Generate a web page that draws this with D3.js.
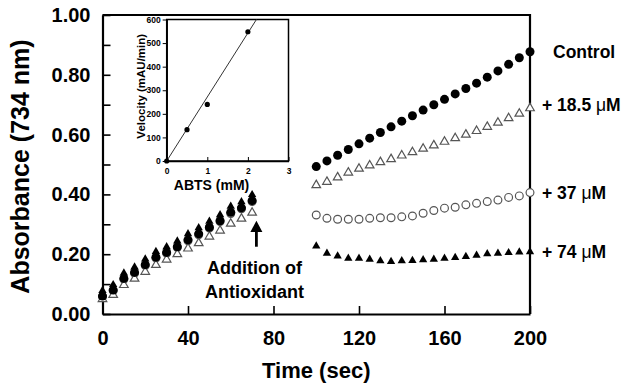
<!DOCTYPE html>
<html>
<head>
<meta charset="utf-8">
<script src="https://cdn.jsdelivr.net/npm/d3@7"></script>
<style>
  body { margin: 0; background: #fff; }
  svg { display: block; font-family: "Liberation Sans", Arial, sans-serif; font-weight: bold; }
</style>
</head>
<body>
<svg id="chart" width="621" height="383"></svg>
<script>
// time points (sec), before and after the antioxidant is added
const timeBefore = [0, 5, 10, 15, 20, 25, 30, 35, 40, 45, 50, 55, 60, 65, 70];
const timeAfter = [100, 105, 110, 115, 120, 125, 130, 135, 140, 145, 150, 155, 160, 165, 170, 175, 180, 185, 190, 195, 200];

// absorbance at 734 nm
const controlBefore = [0.060, 0.080, 0.119, 0.139, 0.165, 0.190, 0.206, 0.225, 0.248, 0.268, 0.290, 0.312, 0.340, 0.355, 0.379];
const conc18Before = [0.050, 0.064, 0.097, 0.118, 0.141, 0.164, 0.182, 0.200, 0.219, 0.237, 0.259, 0.279, 0.302, 0.319, 0.339];
const conc37Before = [0.058, 0.078, 0.116, 0.136, 0.162, 0.187, 0.203, 0.222, 0.245, 0.265, 0.287, 0.309, 0.336, 0.352, 0.376];
const conc74Before = [0.078, 0.098, 0.137, 0.157, 0.184, 0.209, 0.225, 0.244, 0.268, 0.288, 0.310, 0.332, 0.360, 0.375, 0.399];

const controlAfter = [0.493, 0.512, 0.531, 0.550, 0.569, 0.588, 0.607, 0.626, 0.645, 0.663, 0.682, 0.700, 0.718, 0.736, 0.754, 0.772, 0.792, 0.813, 0.835, 0.857, 0.877];
const conc18After = [0.431, 0.442, 0.457, 0.473, 0.486, 0.497, 0.508, 0.518, 0.530, 0.541, 0.553, 0.564, 0.576, 0.588, 0.600, 0.612, 0.626, 0.640, 0.655, 0.670, 0.688];
const conc37After = [0.331, 0.320, 0.317, 0.317, 0.317, 0.320, 0.322, 0.322, 0.325, 0.328, 0.337, 0.346, 0.354, 0.357, 0.365, 0.370, 0.376, 0.381, 0.390, 0.395, 0.406];
const conc74After = [0.227, 0.203, 0.194, 0.186, 0.186, 0.183, 0.178, 0.175, 0.178, 0.179, 0.181, 0.183, 0.186, 0.189, 0.192, 0.196, 0.201, 0.203, 0.205, 0.207, 0.208];

const seriesLabels = ["Control", "+ 18.5 ", "+ 37 ", "+ 74 "];

const xTicks = [0, 40, 80, 120, 160, 200];
const yTicks = [0, 0.1, 0.2, 0.3, 0.4, 0.5, 0.6, 0.7, 0.8, 0.9, 1.0];

// inset: velocity vs ABTS
const abts = [0, 0.5, 1, 2];
const velocity = [0, 133, 240, 548];
const fitAbts = [0, 2.21];
const fitVelocity = [0, 600];
const insetXTicks = [0, 1, 2, 3];
const insetYTicks = [0, 100, 200, 300, 400, 500, 600];

const svg = d3.select("#chart");

const x = d3.scaleLinear().domain([0, 200]).range([102.5, 530]);
const y = d3.scaleLinear().domain([0, 1]).range([314, 15]);

/// axes
const gx = svg.append("g")
  .attr("transform", "translate(0," + y(0) + ")")
  .call(d3.axisBottom(x).tickValues(xTicks).tickSizeInner(-8).tickSizeOuter(0).tickPadding(17).tickFormat(d3.format("d")));

const gy = svg.append("g")
  .attr("transform", "translate(" + x(0) + ",0)")
  .call(d3.axisLeft(y).tickValues(yTicks).tickSizeInner(-8).tickSizeOuter(0).tickPadding(12)
    .tickFormat(d => Math.round(d * 10) % 2 === 0 ? d3.format(".2f")(d) : ""));

[gx, gy].forEach(g => {
  g.select(".domain").attr("stroke", "#000").attr("stroke-width", 2.2);
  g.selectAll(".tick line").attr("stroke", "#000").attr("stroke-width", 1.6);
  g.selectAll(".tick text").attr("fill", "#000").style("font-size", "20px").style("font-family", "inherit");
});

// top and right frame
svg.append("path")
  .attr("d", "M" + x(0) + "," + y(1) + "H" + x(200) + "V" + y(0))
  .attr("fill", "none").attr("stroke", "#000").attr("stroke-width", 2.2);

svg.append("text")
  .attr("transform", "translate(29," + ((y(0) + y(1)) / 2 + 2) + ") rotate(-90)")
  .attr("text-anchor", "middle")
  .style("font-size", "25px")
  .text("Absorbance (734 nm)");

svg.append("text")
  .attr("x", (x(0) + x(200)) / 2).attr("y", 378)
  .attr("text-anchor", "middle")
  .style("font-size", "22px")
  .text("Time (sec)");

/// markers
const triFilled = d3.symbol(d3.symbolTriangle, 30);
const triOpen = d3.symbol(d3.symbolTriangle, 32);

function drawSeries(times, values, kind) {
  const pts = times.map((t, i) => [t, values[i]]);
  const g = svg.append("g");
  if (kind === "circleFilled") {
    g.selectAll("circle").data(pts).enter().append("circle")
      .attr("cx", d => x(d[0])).attr("cy", d => y(d[1])).attr("r", 4.5)
      .attr("fill", "#000");
  } else if (kind === "circleOpen") {
    g.selectAll("circle").data(pts).enter().append("circle")
      .attr("cx", d => x(d[0])).attr("cy", d => y(d[1])).attr("r", 3.9)
      .attr("fill", "#fff").attr("stroke", "#555").attr("stroke-width", 1.2);
  } else if (kind === "triangleOpen") {
    g.selectAll("path").data(pts).enter().append("path")
      .attr("d", triOpen)
      .attr("transform", d => "translate(" + x(d[0]) + "," + y(d[1]) + ")")
      .attr("fill", "#fff").attr("stroke", "#555").attr("stroke-width", 1.2);
  } else {
    g.selectAll("path").data(pts).enter().append("path")
      .attr("d", triFilled)
      .attr("transform", d => "translate(" + x(d[0]) + "," + y(d[1]) + ")")
      .attr("fill", "#000");
  }
}

drawSeries(timeBefore, conc37Before, "circleOpen");
drawSeries(timeBefore, conc18Before, "triangleOpen");
drawSeries(timeBefore, conc74Before, "triangleFilled");
drawSeries(timeBefore, controlBefore, "circleFilled");

drawSeries(timeAfter, conc37After, "circleOpen");
drawSeries(timeAfter, conc18After, "triangleOpen");
drawSeries(timeAfter, conc74After, "triangleFilled");
drawSeries(timeAfter, controlAfter, "circleFilled");

/// series labels at the right
const labelY = [58, 111, 199, 258];
seriesLabels.forEach((lab, i) => {
  const t = svg.append("text")
    .attr("x", i === 0 ? 553 : 542)
    .attr("y", labelY[i])
    .style("font-size", "17.5px")
    .text(lab);
  if (i > 0) {
    t.append("tspan").style("font-weight", "normal").text("\u03bc");
    t.append("tspan").text("M");
  }
});

/// arrow: addition of antioxidant
const arrowT = 72;
const ax = x(arrowT);
svg.append("line")
  .attr("x1", ax).attr("x2", ax).attr("y1", y(0.225)).attr("y2", y(0.28))
  .attr("stroke", "#000").attr("stroke-width", 2.8);
svg.append("path")
  .attr("d", "M" + ax + "," + y(0.312) + "L" + (ax + 6) + "," + y(0.274) + "L" + (ax - 6) + "," + y(0.274) + "Z")
  .attr("fill", "#000");
svg.append("text").attr("x", ax - 2).attr("y", 274).attr("text-anchor", "middle")
  .style("font-size", "18px").text("Addition of");
svg.append("text").attr("x", ax - 2).attr("y", 298).attr("text-anchor", "middle")
  .style("font-size", "18px").text("Antioxidant");

/// inset
const ix = d3.scaleLinear().domain([0, 3]).range([166.7, 288.5]);
const iy = d3.scaleLinear().domain([0, 600]).range([161, 19.5]);

const inset = svg.append("g");
inset.append("rect")
  .attr("x", ix(0)).attr("y", iy(600))
  .attr("width", ix(3) - ix(0)).attr("height", iy(0) - iy(600))
  .attr("fill", "#fff").attr("stroke", "#000").attr("stroke-width", 1.5);

const igx = inset.append("g")
  .attr("transform", "translate(0," + iy(0) + ")")
  .call(d3.axisBottom(ix).tickValues(insetXTicks).tickSizeInner(-4).tickSizeOuter(0).tickPadding(7).tickFormat(d3.format("d")));
const igy = inset.append("g")
  .attr("transform", "translate(" + ix(0) + ",0)")
  .call(d3.axisLeft(iy).tickValues(insetYTicks).tickSizeInner(4).tickSizeOuter(0).tickPadding(2).tickFormat(d3.format("d")));

[igx, igy].forEach(g => {
  g.select(".domain").attr("stroke", "#000").attr("stroke-width", 1.5);
  g.selectAll(".tick line").attr("stroke", "#000").attr("stroke-width", 1);
  g.selectAll(".tick text").attr("fill", "#000").style("font-size", "8.5px").style("font-family", "inherit");
});

inset.append("path")
  .datum(fitAbts.map((a, i) => [a, fitVelocity[i]]))
  .attr("d", d3.line().x(d => ix(d[0])).y(d => iy(d[1])))
  .attr("fill", "none").attr("stroke", "#333").attr("stroke-width", 1);

inset.selectAll("circle.pt").data(abts.map((a, i) => [a, velocity[i]])).enter()
  .append("circle").attr("class", "pt")
  .attr("cx", d => ix(d[0])).attr("cy", d => iy(d[1])).attr("r", 2.6)
  .attr("fill", "#000");

inset.append("text")
  .attr("x", 211.5).attr("y", 190)
  .attr("text-anchor", "middle")
  .style("font-size", "14px")
  .text("ABTS (mM)");

inset.append("text")
  .attr("transform", "translate(145," + ((iy(0) + iy(600)) / 2 - 4) + ") rotate(-90)")
  .attr("text-anchor", "middle")
  .style("font-size", "11.5px")
  .text("Velocity (mAU/min)");
</script>
</body>
</html>
